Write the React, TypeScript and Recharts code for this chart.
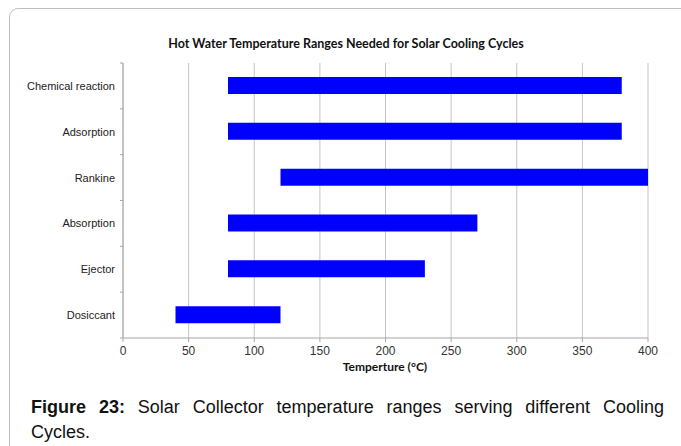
import { BarChart, Bar, XAxis, YAxis, CartesianGrid } from 'recharts';

const cycles = ['Chemical reaction', 'Adsorption', 'Rankine', 'Absorption', 'Ejector', 'Dosiccant'];
const lowTemps = [80, 80, 120, 80, 80, 40];
const highTemps = [380, 380, 400, 270, 230, 120];
const xTicks = [0, 50, 100, 150, 200, 250, 300, 350, 400];

const chartData = cycles.map((name, i) => ({
  name,
  low: lowTemps[i],
  span: highTemps[i] - lowTemps[i],
}));

const PLOT_TOP = 63;
const PLOT_BOTTOM = 338;
const X_AXIS_H = 30;
const band = (PLOT_BOTTOM - PLOT_TOP) / cycles.length;

// category label plus a small tick on the band boundary (like Excel)
function CategoryTick(props: any) {
  const { x, y, payload, index } = props;
  const ax = x + 8;
  return (
    <g>
      <text x={x} y={y} dy={4} textAnchor="end" fontSize={11} fill="#222" fontFamily="'Liberation Sans', Arial, sans-serif">
        {payload.value}
      </text>
      <line x1={ax - 3} x2={ax} y1={y - band / 2} y2={y - band / 2} stroke="#a6a6a6" />
      {index === cycles.length - 1 && (
        <line x1={ax - 3} x2={ax} y1={y + band / 2} y2={y + band / 2} stroke="#a6a6a6" />
      )}
    </g>
  );
}

const captionFont = "'Liberation Sans', Arial, sans-serif";

export default function App() {
  return (
    <div style={{ position: 'absolute', left: 0, top: 0, width: 681, height: 446, overflow: 'hidden', background: '#fff' }}>
      <div
        style={{
          position: 'absolute',
          left: 9,
          top: 8,
          width: 700,
          height: 460,
          border: '1px solid #bdbdbd',
          borderRadius: 9,
        }}
      />
      <div
        style={{
          position: 'absolute',
          top: 36,
          left: 0,
          width: 692,
          textAlign: 'center',
          fontFamily: 'Lato, sans-serif',
          fontWeight: 700,
          fontSize: 12.5,
          color: '#111',
        }}
      >
        Hot Water Temperature Ranges Needed for Solar Cooling Cycles
      </div>
      <div style={{ position: 'absolute', left: 0, top: 0 }}>
        <BarChart
          width={681}
          height={446}
          data={chartData}
          layout="vertical"
          margin={{ top: PLOT_TOP, right: 33, bottom: 446 - PLOT_BOTTOM - X_AXIS_H, left: 0 }}
          barSize={17}
        >
          <CartesianGrid horizontal={false} stroke="#c4c4c4" strokeWidth={1} />
          <XAxis
            type="number"
            domain={[0, 400]}
            ticks={xTicks}
            interval={0}
            stroke="#a6a6a6"
            tickSize={4}
            tickMargin={4}
            tick={{ fontSize: 12, fill: '#333', fontFamily: "'Liberation Sans', Arial, sans-serif" }}
            height={X_AXIS_H}
          />
          <YAxis
            type="category"
            dataKey="name"
            width={123}
            stroke="#a6a6a6"
            tickLine={false}
            tick={<CategoryTick />}
          />
          <Bar dataKey="low" stackId="r" fill="transparent" isAnimationActive={false} />
          <Bar dataKey="span" stackId="r" fill="#0000ff" isAnimationActive={false} />
        </BarChart>
      </div>
      <div
        style={{
          position: 'absolute',
          top: 359,
          left: 0,
          width: 770,
          textAlign: 'center',
          fontFamily: 'Lato, sans-serif',
          fontWeight: 700,
          fontSize: 12,
          color: '#111',
        }}
      >
        Temperture (°C)
      </div>
      <div
        style={{
          position: 'absolute',
          top: 395,
          left: 31,
          width: 633,
          textAlign: 'justify',
          textAlignLast: 'justify',
          fontFamily: captionFont,
          fontSize: 18,
          lineHeight: '25px',
          color: '#111',
        }}
      >
        <b>Figure 23:</b> Solar Collector temperature ranges serving different Cooling
      </div>
      <div
        style={{
          position: 'absolute',
          top: 420,
          left: 31,
          fontFamily: captionFont,
          fontSize: 18,
          lineHeight: '25px',
          color: '#111',
        }}
      >
        Cycles.
      </div>
    </div>
  );
}
